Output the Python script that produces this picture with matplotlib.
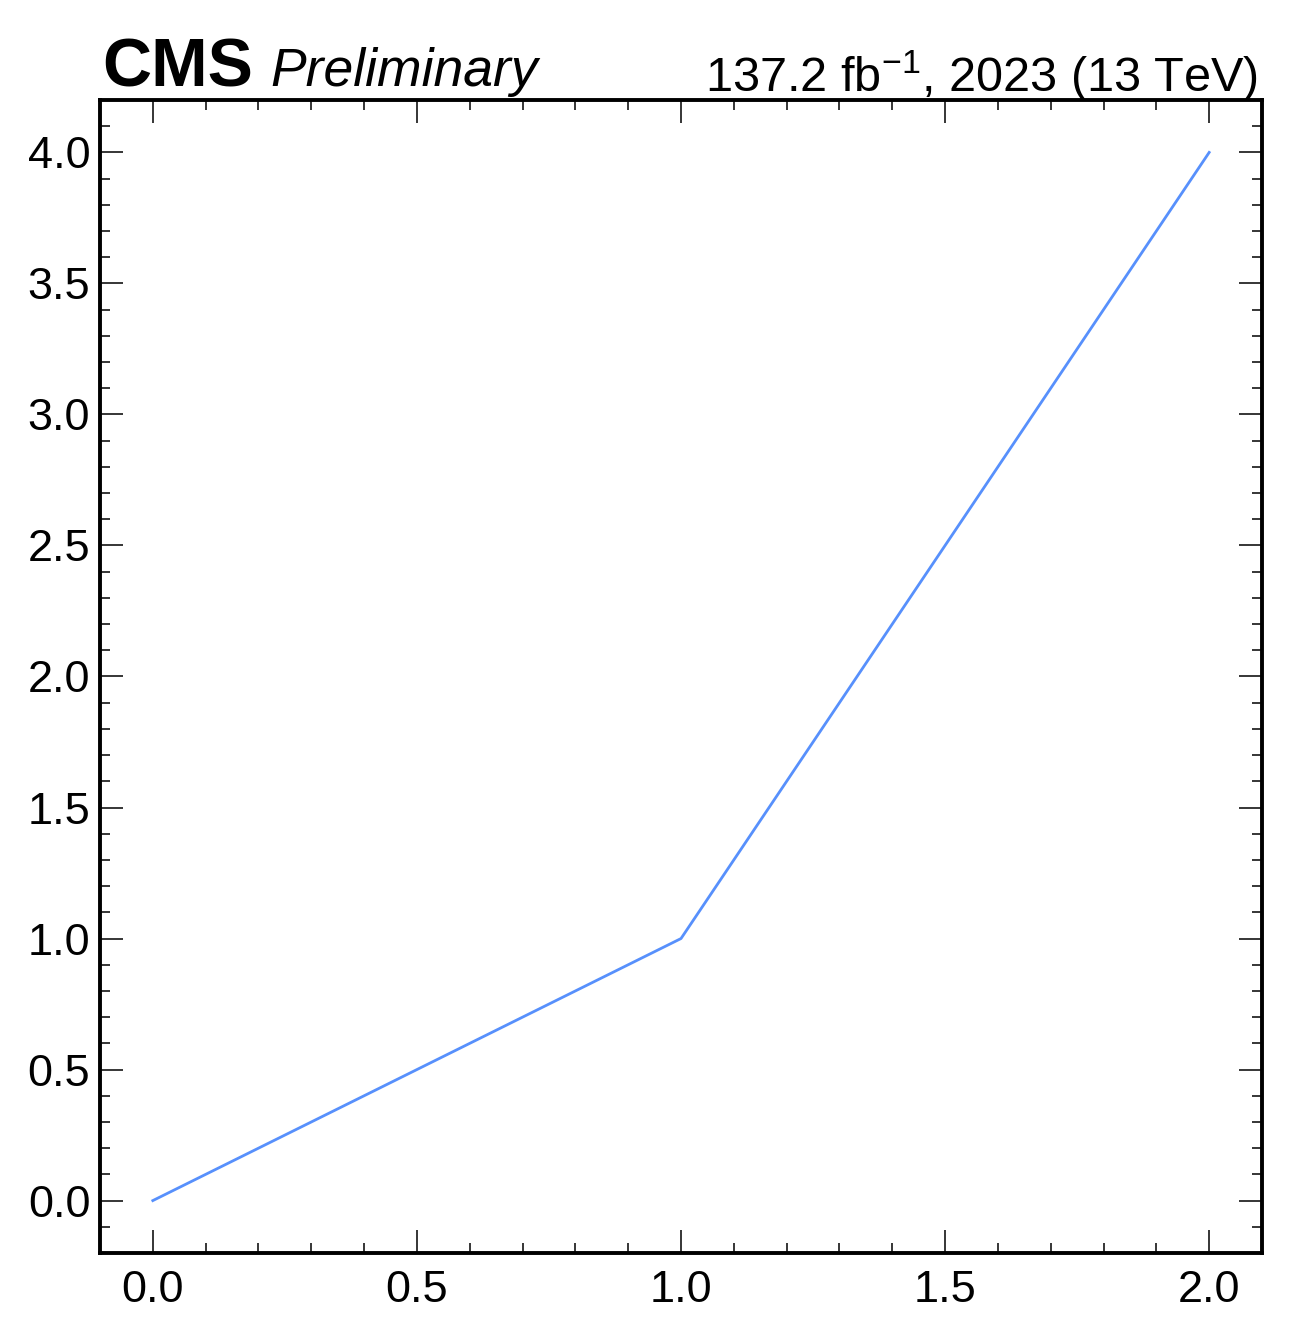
import matplotlib
matplotlib.use("Agg")
import matplotlib.pyplot as plt
from matplotlib.ticker import AutoMinorLocator

# data
x = [0, 1, 2]
y = [0, 1, 4]

plt.rcParams['font.family'] = ['Liberation Sans', 'DejaVu Sans']
plt.rcParams['mathtext.fontset'] = 'custom'
plt.rcParams['mathtext.rm'] = 'Liberation Sans'
plt.rcParams['mathtext.it'] = 'Liberation Sans:italic'
plt.rcParams['mathtext.bf'] = 'Liberation Sans:bold'

fig = plt.figure(figsize=(12.92, 13.43), dpi=100)
ax = fig.add_axes([100/1292, 1 - 1253/1343, 1162/1292, 1153/1343])

ax.plot(x, y, color='#5790fc', linewidth=2.0)

ax.set_xlim(-0.1, 2.1)
ax.set_ylim(-0.2, 4.2)
ax.set_xticks([0, 0.5, 1.0, 1.5, 2.0])
ax.set_yticks([0, 0.5, 1.0, 1.5, 2.0, 2.5, 3.0, 3.5, 4.0])
ax.xaxis.set_minor_locator(AutoMinorLocator(5))
ax.yaxis.set_minor_locator(AutoMinorLocator(5))

ax.tick_params(which='both', direction='in', top=True, right=True, width=1.1)
ax.tick_params(which='major', length=16.5, labelsize=32.5)
ax.tick_params(which='minor', length=7)
ax.tick_params(axis='y', which='major', pad=7)
ax.tick_params(axis='x', which='major', pad=12)
for s in ax.spines.values():
    s.set_linewidth(2.8)

ax.text(0.002, 1.012, "CMS", transform=ax.transAxes, fontsize=49,
        fontweight='bold', ha='left', va='baseline')
ax.text(0.147, 1.012, "Preliminary", transform=ax.transAxes, fontsize=38.5,
        fontstyle='italic', ha='left', va='baseline')
ax.text(0.997, 1.007, r"137.2 fb$^{-1}$, 2023 (13 TeV)", transform=ax.transAxes,
        fontsize=35, ha='right', va='baseline')

fig.savefig("out.png", dpi=100)
